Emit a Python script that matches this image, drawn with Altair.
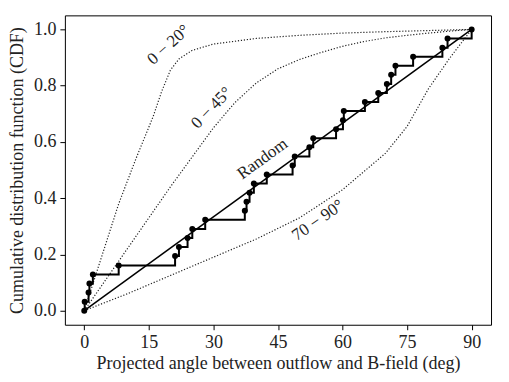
import altair as alt
import pandas as pd

# Observed empirical CDF (angles in deg, CDF values)
obs_angle = [0.0, 0.1, 1.0, 1.2, 2.0, 8.0, 21.1, 22.0, 24.0, 25.1, 28.1, 37.3,
             37.7, 38.4, 39.4, 42.4, 48.4, 48.9, 52.3, 53.2, 58.5, 60.1, 60.3,
             65.2, 68.3, 70.3, 71.3, 72.3, 76.4, 83.2, 84.4, 90.0]
obs_cdf = [0.000, 0.032, 0.065, 0.097, 0.129, 0.161, 0.194, 0.226, 0.258, 0.290,
           0.323, 0.355, 0.387, 0.419, 0.452, 0.484, 0.516, 0.548, 0.581, 0.613,
           0.645, 0.677, 0.710, 0.742, 0.774, 0.806, 0.839, 0.871, 0.903, 0.935,
           0.968, 1.000]

# Random (uniform) reference line
rand_x = [0, 90]
rand_y = [0.0, 1.0]

# Simulated model CDFs (dotted)
m020_x = [0, 2, 4, 6, 8, 10, 12, 14, 16, 18, 20, 22, 25, 30, 40, 50, 60, 70, 80, 90]
m020_y = [0, 0.095, 0.19, 0.285, 0.38, 0.46, 0.54, 0.615, 0.69, 0.78, 0.855, 0.895,
          0.925, 0.948, 0.968, 0.979, 0.987, 0.992, 0.996, 1.0]
m045_x = [0, 5, 10, 15, 20, 25, 30, 35, 40, 45, 50, 55, 60, 65, 70, 75, 80, 85, 90]
m045_y = [0, 0.11, 0.22, 0.33, 0.44, 0.545, 0.65, 0.74, 0.81, 0.86, 0.893, 0.918,
          0.94, 0.957, 0.97, 0.979, 0.987, 0.994, 1.0]
m7090_x = [0, 10, 20, 30, 40, 50, 60, 70, 75, 80, 85, 90]
m7090_y = [0, 0.06, 0.125, 0.19, 0.255, 0.33, 0.43, 0.56, 0.655, 0.79, 0.90, 1.0]

# Curve labels
lab_text = ["0 \u2212 20\u00b0", "0 \u2212 45\u00b0", "Random", "70 \u2212 90\u00b0"]
lab_x = [19.6, 29.6, 41.4, 54.3]
lab_y = [0.945, 0.721, 0.540, 0.321]
lab_angle = [318, 314, 324, 325]

FONT = "Liberation Serif"

obs = pd.DataFrame({"x": obs_angle, "y": obs_cdf})
rand = pd.DataFrame({"x": rand_x, "y": rand_y})
models = pd.concat([
    pd.DataFrame({"x": m020_x, "y": m020_y, "s": "0-20"}),
    pd.DataFrame({"x": m045_x, "y": m045_y, "s": "0-45"}),
    pd.DataFrame({"x": m7090_x, "y": m7090_y, "s": "70-90"}),
])
labels = pd.DataFrame({"t": lab_text, "x": lab_x, "y": lab_y, "a": lab_angle})

xs = alt.Scale(domain=[-4.5, 94.5], nice=False, zero=False)
ys = alt.Scale(domain=[-0.05, 1.05], nice=False, zero=False)
xax = alt.Axis(values=[0, 15, 30, 45, 60, 75, 90], format="d",
               title="Projected angle between outflow and B-field (deg)")
yax = alt.Axis(values=[0, 0.2, 0.4, 0.6, 0.8, 1.0], format=".1f",
               title="Cumulative distribution function (CDF)")

X = alt.X("x:Q", scale=xs, axis=xax)
Y = alt.Y("y:Q", scale=ys, axis=yax)

model_lines = alt.Chart(models).mark_line(
    color="#222222", strokeWidth=1.2, strokeDash=[1.2, 1.8]
).encode(x=X, y=Y, detail="s:N", order="x:Q")

rand_line = alt.Chart(rand).mark_line(color="black", strokeWidth=1.5).encode(x=X, y=Y)

step = alt.Chart(obs).mark_line(
    color="black", strokeWidth=2, interpolate="step-after"
).encode(x=X, y=Y)

pts = alt.Chart(obs).mark_circle(color="black", size=36, opacity=1).encode(x=X, y=Y)

txt = alt.Chart(labels).mark_text(
    font=FONT, fontSize=17, color="#222222", align="center", baseline="middle"
).encode(x=X, y=Y, text="t:N", angle=alt.Angle("a:Q", scale=None))

chart = alt.layer(model_lines, rand_line, step, pts, txt).properties(
    width=427, height=310,
    autosize=alt.AutoSizeParams(type="none"),
    padding={"left": 57, "top": 7, "right": 10, "bottom": 56},
).configure_view(
    stroke="black", strokeWidth=1
).configure_axis(
    grid=False, domain=False, ticks=True, tickColor="black", tickSize=5,
    tickWidth=1, labelFont=FONT, labelFontSize=18, labelColor="#222222",
    titleFont=FONT, titleFontSize=18, titleFontWeight="normal", titleColor="#222222",
    labelPadding=4
).configure_axisY(titlePadding=7).configure_axisX(titlePadding=3)

chart.save("out.html", embed_options={"renderer": "svg", "actions": False})
